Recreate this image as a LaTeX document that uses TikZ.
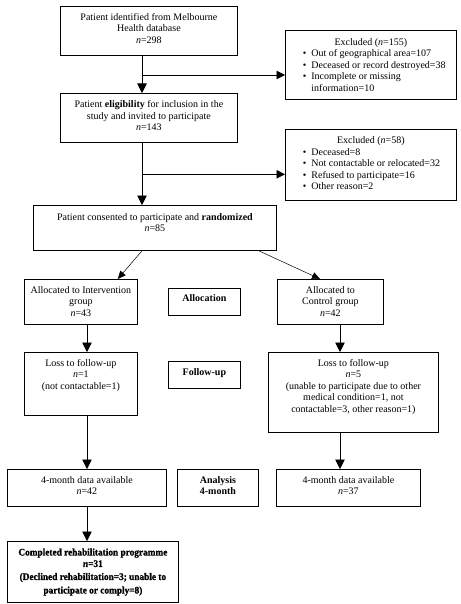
\documentclass[tikz,border=0pt]{standalone}
\usepackage{fontspec}
\setmainfont{Liberation Serif}
\newfontfamily\heavyfont[UprightFont={* Bold},ItalicFont={* Bold Italic},UprightFeatures={FakeBold=1.2,FakeStretch=0.93},ItalicFeatures={FakeBold=1.2,FakeStretch=0.93}]{Liberation Serif}
\usetikzlibrary{arrows.meta,calc}
\newcommand\bt[4]{\parbox[c][#1pt][t]{#2pt}{\vspace*{#3pt}\centering\strut #4\par}}
\newcommand\bul{\hspace*{-8.5pt}\makebox[8.5pt][l]{\textbullet}}
\tikzset{
  bx/.style={draw, line width=0.8pt, inner sep=0pt, anchor=north west, font=\fontsize{10}{11.5}\selectfont},
  arr/.style={line width=0.7pt, -{Triangle[length=9.5pt,width=9.5pt]}},
  harr/.style={line width=0.7pt, -{Triangle[length=8.5pt,width=8.5pt]}},
  darr/.style={line width=0.5pt, -{Triangle[length=8pt,width=7pt]}}
}
\begin{document}
\begin{tikzpicture}[x=1pt,y=-1pt]
\useasboundingbox (0,0) rectangle (460,604);
\fill[white] (0,0) rectangle (460,604);

\node[bx] (b1) at (60,6) {\bt{49}{177}{6}{Patient identified from Melbourne\\ Health database\\ \textit{n}=298}};
\node[bx] (b2) at (60,93) {\bt{49}{177}{6.3}{Patient \textbf{eligibility} for inclusion in the\\ study and invited to participate\\ \textit{n}=143}};
\node[bx] (b3) at (33,205) {\bt{45}{243}{6.8}{Patient consented to participate and \textbf{randomized}\\ \textit{n}=85}};

\node[bx] (ex1) at (285,30) {\bt{69}{171}{6.6}{Excluded (\textit{n}=155)\par\raggedright\leftskip=26pt
  \bul Out of geographical area=107\par
  \bul Deceased or record destroyed=38\par
  \bul Incomplete or missing\\ information=10}};
\node[bx] (ex2) at (285,129.3) {\bt{70.7}{171}{6}{Excluded (\textit{n}=58)\par\raggedright\leftskip=26pt
  \bul Deceased=8\par
  \bul Not contactable or relocated=32\par
  \bul Refused to participate=16\par
  \bul Other reason=2}};

\node[bx] (iv) at (24,279) {\bt{45}{113}{5.6}{Allocated to Intervention\\ group\\ \textit{n}=43}};
\node[bx] (al) at (168,288) {\bt{27}{72}{5.5}{\textbf{Allocation}}};
\node[bx] (ct) at (277,279) {\bt{45}{106}{5.6}{Allocated to\\ Control group\\ \textit{n}=42}};

\node[bx] (ll) at (24,352) {\bt{63}{113}{6}{Loss to follow-up\\ \textit{n}=1\\ (not contactable=1)}};
\node[bx] (fu) at (168,361) {\bt{27}{72}{6}{\textbf{Follow-up}}};
\node[bx] (lr) at (268,352) {\bt{80}{170}{6}{Loss to follow-up\\ \textit{n}=5\\ (unable to participate due to other\\ medical condition=1, not\\ contactable=3, other reason=1)}};

\node[bx] (ml) at (7,469) {\bt{37}{159}{5.7}{4-month data available\\ \textit{n}=42}};
\node[bx] (an) at (177,469) {\bt{37}{81}{5.7}{\textbf{Analysis\\ 4-month}}};
\node[bx] (mr) at (276,469) {\bt{37}{144}{5.7}{4-month data available\\ \textit{n}=37}};

\node[bx] (cp) at (7,541) {\bt{61}{171}{6}{\heavyfont Completed rehabilitation programme\\ \textit{n}=31\\[1.5pt] (Declined rehabilitation=3; unable to\\[2pt] participate or comply=8)}};

\coordinate (j1) at (142,75);
\coordinate (j2) at (142,174.3);
\coordinate (cl) at (87,0);
\coordinate (cr) at (340,0);

\draw[arr] (b1.south -| j1) -- (b2.north -| j1);
\draw[harr] (j1) -- (j1 -| ex1.west);
\draw[arr] (b2.south -| j2) -- (b3.north -| j2);
\draw[harr] (j2) -- (j2 -| ex2.west);

\draw[darr] (b3.south -| j1) -- ([xshift=-20pt]iv.north east);
\draw[darr] ([xshift=-18pt]b3.south east) -- ([xshift=43pt]ct.north west);

\draw[arr] (iv.south -| cl) -- (ll.north -| cl);
\draw[arr] (ct.south -| cr) -- (lr.north -| cr);
\draw[arr] (ll.south -| cl) -- (ml.north -| cl);
\draw[arr] (lr.south -| cr) -- (mr.north -| cr);
\draw[arr] (ml.south -| cl) -- (cp.north -| cl);
\end{tikzpicture}
\end{document}
